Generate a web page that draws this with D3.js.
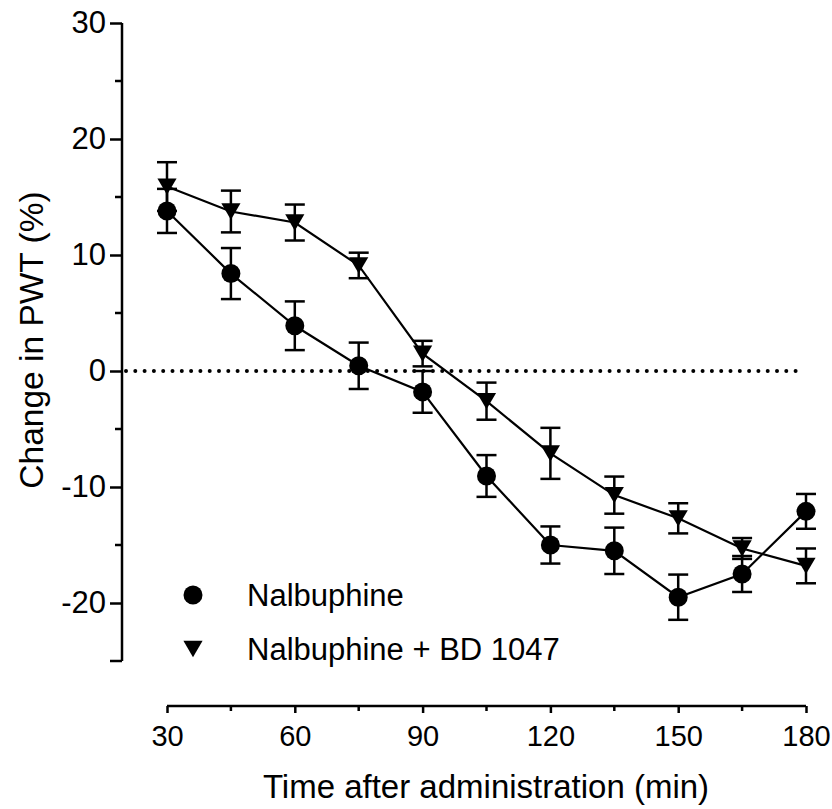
<!DOCTYPE html>
<html>
<head>
  <script src="https://cdnjs.cloudflare.com/ajax/libs/d3/7.8.5/d3.min.js"></script>
  <style>
    body { margin: 0; background: #fff; }
    svg { display: block; font-family: "Liberation Sans", Arial, sans-serif; }
  </style>
</head>
<body>
<div id="chart"></div>
<script>
// ---- data ----
var times = [30, 45, 60, 75, 90, 105, 120, 135, 150, 165, 180];
var nalbMean = [13.8, 8.4, 3.9, 0.45, -1.8, -9.05, -15.0, -15.5, -19.5, -17.5, -12.1];
var nalbSem  = [1.9, 2.2, 2.1, 2.0, 1.8, 1.8, 1.6, 2.0, 1.95, 1.55, 1.5];
var bdMean   = [15.9, 13.75, 12.8, 9.1, 1.5, -2.6, -7.1, -10.7, -12.7, -15.3, -16.8];
var bdSem    = [2.1, 1.8, 1.55, 1.1, 1.1, 1.6, 2.2, 1.6, 1.3, 0.9, 1.5];
var xTicks = [30, 60, 90, 120, 150, 180];
var xMinor = [45, 75, 105, 135, 165];
var yTicks = [30, 20, 10, 0, -10, -20];
var yMinor = [25, 15, 5, -5, -15, -25];
var seriesNames = ['Nalbuphine', 'Nalbuphine + BD 1047'];

var width = 832, height = 809;
var svg = d3.select('#chart').append('svg')
    .attr('width', width)
    .attr('height', height);

var x = d3.scaleLinear().domain([30, 180]).range([167, 806]);
var y = d3.scaleLinear().domain([-25, 30]).range([661, 23]);
var axisX = 706, axisY = 122;

// down-pointing triangle, centred on its bounding box
var triDown = {
    draw: function(ctx, size) {
        var w = Math.sqrt(size * 2.3), h = w * 0.85;
        ctx.moveTo(-w / 2, -h / 2);
        ctx.lineTo(w / 2, -h / 2);
        ctx.lineTo(0, h / 2);
        ctx.closePath();
    }
};
var circleSym = d3.symbol().type(d3.symbolCircle).size(Math.PI * 9.5 * 9.5);
var triSym = d3.symbol().type(triDown).size(160);

//----------------------------------------
// Y axis
var yAxis = d3.axisLeft(y).tickValues(yTicks).tickSize(12).tickPadding(4)
    .tickFormat(d3.format('d'));
var gy = svg.append('g').attr('transform', 'translate(' + axisY + ',0)').call(yAxis);
gy.select('.domain').remove();
gy.append('line').attr('x1', 0).attr('x2', 0).attr('y1', y(30)).attr('y2', y(-25));
gy.selectAll('.minor').data(yMinor).enter().append('line')
    .attr('x1', function(d) { return d === -25 ? -12 : -7; }).attr('x2', 0)
    .attr('y1', function(d) { return y(d); }).attr('y2', function(d) { return y(d); });
gy.selectAll('line').attr('stroke', '#000').attr('stroke-width', 2.5);
gy.selectAll('text').attr('font-size', 31).attr('fill', '#000')
    .attr('font-family', '"Liberation Sans", Arial, sans-serif')
    .text(function(d) { return d < 0 ? '-' + Math.abs(d) : d; });

//----------------------------------------
// X axis
var xAxis = d3.axisBottom(x).tickValues(xTicks).tickSize(7).tickPadding(12);
var gx = svg.append('g').attr('transform', 'translate(0,' + axisX + ')').call(xAxis);
gx.select('.domain').remove();
gx.append('line').attr('x1', x(30)).attr('x2', x(180)).attr('y1', 0).attr('y2', 0);
gx.selectAll('.minor').data(xMinor).enter().append('line')
    .attr('x1', function(d) { return x(d); }).attr('x2', function(d) { return x(d); })
    .attr('y1', 0).attr('y2', 5);
gx.selectAll('line').attr('stroke', '#000').attr('stroke-width', 2.5);
gx.selectAll('text').attr('font-size', 29).attr('fill', '#000')
    .attr('font-family', '"Liberation Sans", Arial, sans-serif');

// Axis titles
svg.append('text')
    .attr('x', 486).attr('y', 798)
    .attr('text-anchor', 'middle')
    .attr('font-size', 33)
    .text('Time after administration (min)');
svg.append('text')
    .attr('transform', 'translate(43,340) rotate(-90)')
    .attr('text-anchor', 'middle')
    .attr('font-size', 33.5)
    .text('Change in PWT (%)');

//----------------------------------------
// zero reference line (dotted)
svg.append('line')
    .attr('x1', axisY + 4).attr('x2', 802)
    .attr('y1', y(0)).attr('y2', y(0))
    .attr('stroke', '#000').attr('stroke-width', 4)
    .attr('stroke-linecap', 'round')
    .attr('stroke-dasharray', '0 9.3');

//----------------------------------------
// series
var series = [
    { name: seriesNames[0], mean: nalbMean, sem: nalbSem, sym: circleSym },
    { name: seriesNames[1], mean: bdMean, sem: bdSem, sym: triSym }
];
var line = d3.line()
    .x(function(d) { return x(d.t); })
    .y(function(d) { return y(d.v); });

series.forEach(function(s) {
    var pts = times.map(function(t, i) { return { t: t, v: s.mean[i], e: s.sem[i] }; });
    var g = svg.append('g');

    // error bars
    var eb = g.selectAll('.eb').data(pts).enter().append('g')
        .attr('stroke', '#000').attr('stroke-width', 2.5);
    eb.append('line')
        .attr('x1', function(d) { return x(d.t); }).attr('x2', function(d) { return x(d.t); })
        .attr('y1', function(d) { return y(d.v + d.e); }).attr('y2', function(d) { return y(d.v - d.e); });
    eb.append('line')
        .attr('x1', function(d) { return x(d.t) - 10; }).attr('x2', function(d) { return x(d.t) + 10; })
        .attr('y1', function(d) { return y(d.v + d.e); }).attr('y2', function(d) { return y(d.v + d.e); });
    eb.append('line')
        .attr('x1', function(d) { return x(d.t) - 10; }).attr('x2', function(d) { return x(d.t) + 10; })
        .attr('y1', function(d) { return y(d.v - d.e); }).attr('y2', function(d) { return y(d.v - d.e); });

    // connecting line
    g.append('path').datum(pts)
        .attr('d', line)
        .attr('fill', 'none').attr('stroke', '#000').attr('stroke-width', 2.2);

    // markers
    g.selectAll('.pt').data(pts).enter().append('path')
        .attr('d', s.sym)
        .attr('transform', function(d) { return 'translate(' + x(d.t) + ',' + y(d.v) + ')'; })
        .attr('fill', '#000');
});

//----------------------------------------
// legend
var legend = svg.append('g');
var legY = [595, 649];
series.forEach(function(s, i) {
    legend.append('path')
        .attr('d', s.sym)
        .attr('transform', 'translate(193,' + legY[i] + ')')
        .attr('fill', '#000');
    legend.append('text')
        .attr('x', 247).attr('y', legY[i] + 11)
        .attr('font-size', 31)
        .text(s.name);
});
</script>
</body>
</html>
